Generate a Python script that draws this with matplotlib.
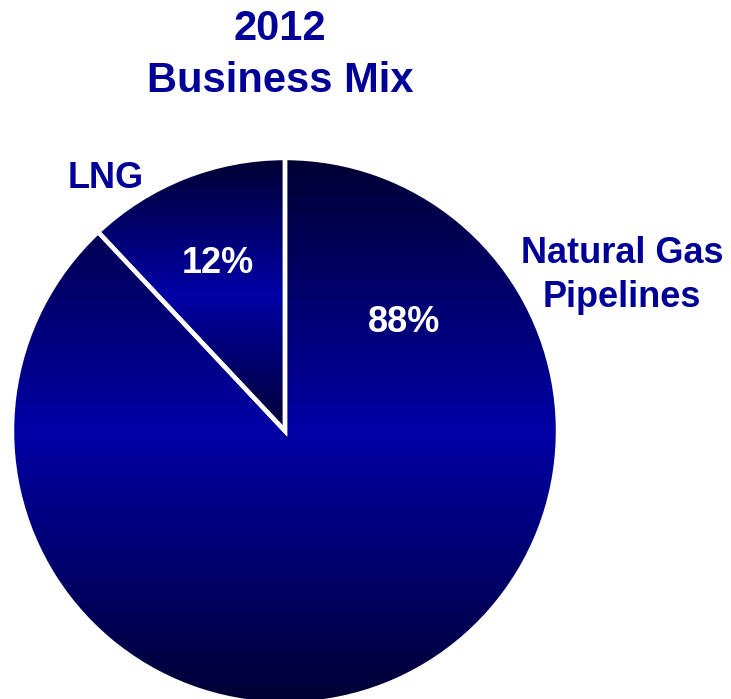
import numpy as np
import matplotlib

matplotlib.use("Agg")
import matplotlib.pyplot as plt
from matplotlib.colors import LinearSegmentedColormap

labels = ["LNG", "Natural Gas\nPipelines"]
shares = [12, 88]
title_lines = ["2012", "Business Mix"]

W, H = 731, 699
text_color = "#000099"
grad = LinearSegmentedColormap.from_list("blue_grad", ["#000033", "#0000A6", "#000033"])

plt.rcParams["font.family"] = ["Liberation Sans", "DejaVu Sans"]
fig = plt.figure(figsize=(W / 100, H / 100), dpi=100)
ax = fig.add_axes([0, 0, 1, 1])

# pie in pixel coords (y measured up from the bottom)
center = (285, H - 431)
radius = 273
wedges, _ = ax.pie(shares, startangle=90, counterclock=True, center=center, radius=radius,
                   wedgeprops=dict(facecolor="none", edgecolor="white", linewidth=3.2, zorder=3))

# vertical dark-bright-dark gradient inside each wedge
g = np.linspace(0, 1, 256).reshape(-1, 1)
for w in wedges:
    ext = w.get_path().get_extents()
    im = ax.imshow(g, cmap=grad, extent=[ext.x0, ext.x1, ext.y0, ext.y1], origin="lower",
                   aspect="auto", zorder=2, interpolation="bicubic")
    im.set_clip_path(w)

ax.set_xlim(0, W)
ax.set_ylim(0, H)
ax.set_aspect("equal")
ax.axis("off")

def put(x, y_base, s, color=text_color, size=26):
    ax.text(x, H - y_base, s, ha="center", va="baseline", fontsize=size,
            fontweight="bold", color=color, zorder=5)

put(280, 40, title_lines[0], size=30)
put(280, 92, title_lines[1], size=30)

put(106, 188, labels[0])
nat1, nat2 = labels[1].split("\n")
put(622, 263, nat1)
put(622, 307, nat2)

put(218, 273, f"{shares[0]}%", color="white")
put(404, 332, f"{shares[1]}%", color="white")

fig.savefig("out.png", dpi=100)
